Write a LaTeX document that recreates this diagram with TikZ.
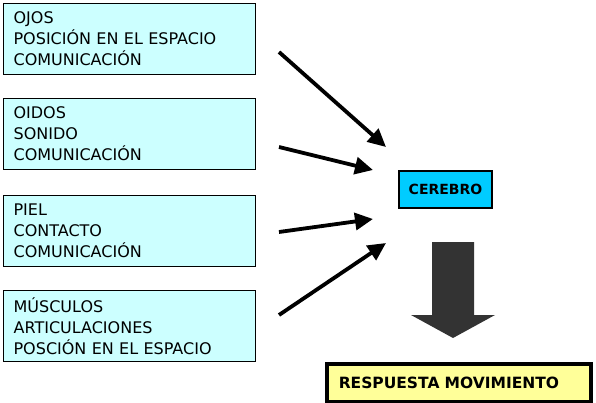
\documentclass[tikz,border=0pt]{standalone}
\usepackage{fontspec}
\setmainfont{DejaVu Sans}
\usetikzlibrary{arrows.meta}
\definecolor{lcyan}{HTML}{CCFFFF}
\definecolor{bcyan}{HTML}{00CCFF}
\definecolor{lyellow}{HTML}{FFFF99}
\definecolor{dgray}{HTML}{333333}
\tikzset{
  sensebox/.style={draw=black, line width=1.2pt, fill=lcyan, anchor=north west,
    minimum width=252pt, minimum height=71pt, text width=232pt, align=left,
    inner xsep=10pt, inner ysep=0pt,
    font=\fontsize{16}{21}\selectfont},
  inarrow/.style={line width=3.8pt, -{Triangle[length=18pt,width=17pt]}},
}
\begin{document}
\begin{tikzpicture}[x=1pt,y=-1pt]
\useasboundingbox (0,0) rectangle (596,403);
\node[sensebox] (ojos) at (3,3) {OJOS\\POSICIÓN EN EL ESPACIO\\COMUNICACIÓN};
\node[sensebox] (oidos) at (3,98) {OIDOS\\SONIDO\\COMUNICACIÓN};
\node[sensebox] (piel) at (3,195) {PIEL\\CONTACTO\\COMUNICACIÓN};
\node[sensebox] (musc) at (3,290) {MÚSCULOS\\ARTICULACIONES\\POSCIÓN EN EL ESPACIO};

\node[draw=black, line width=2pt, fill=bcyan, anchor=north west,
  minimum width=93pt, minimum height=37pt, inner sep=0pt,
  font=\fontsize{14}{16}\selectfont\bfseries] (cerebro) at (398,170) {CEREBRO};

\coordinate (s1) at (279,52);  \coordinate (t1) at (386,147);
\coordinate (s2) at (279,147); \coordinate (t2) at (373,170);
\coordinate (s3) at (279,232); \coordinate (t3) at (373,219);
\coordinate (s4) at (279,315); \coordinate (t4) at (386,243);
\draw[inarrow] (s1) -- (t1);
\draw[inarrow] (s2) -- (t2);
\draw[inarrow] (s3) -- (t3);
\draw[inarrow] (s4) -- (t4);

\fill[dgray] (432,242) -- (474,242) -- (474,315) -- (495,315) -- (453,338)
  -- (411,315) -- (432,315) -- cycle;

\node[draw=black, line width=3.5pt, fill=lyellow, anchor=north west,
  minimum width=264pt, minimum height=38pt, inner sep=0pt, text width=240pt,
  align=left, font=\fontsize{15.5}{18}\selectfont\bfseries] (resp) at (325,362) {RESPUESTA MOVIMIENTO};
\end{tikzpicture}
\end{document}
